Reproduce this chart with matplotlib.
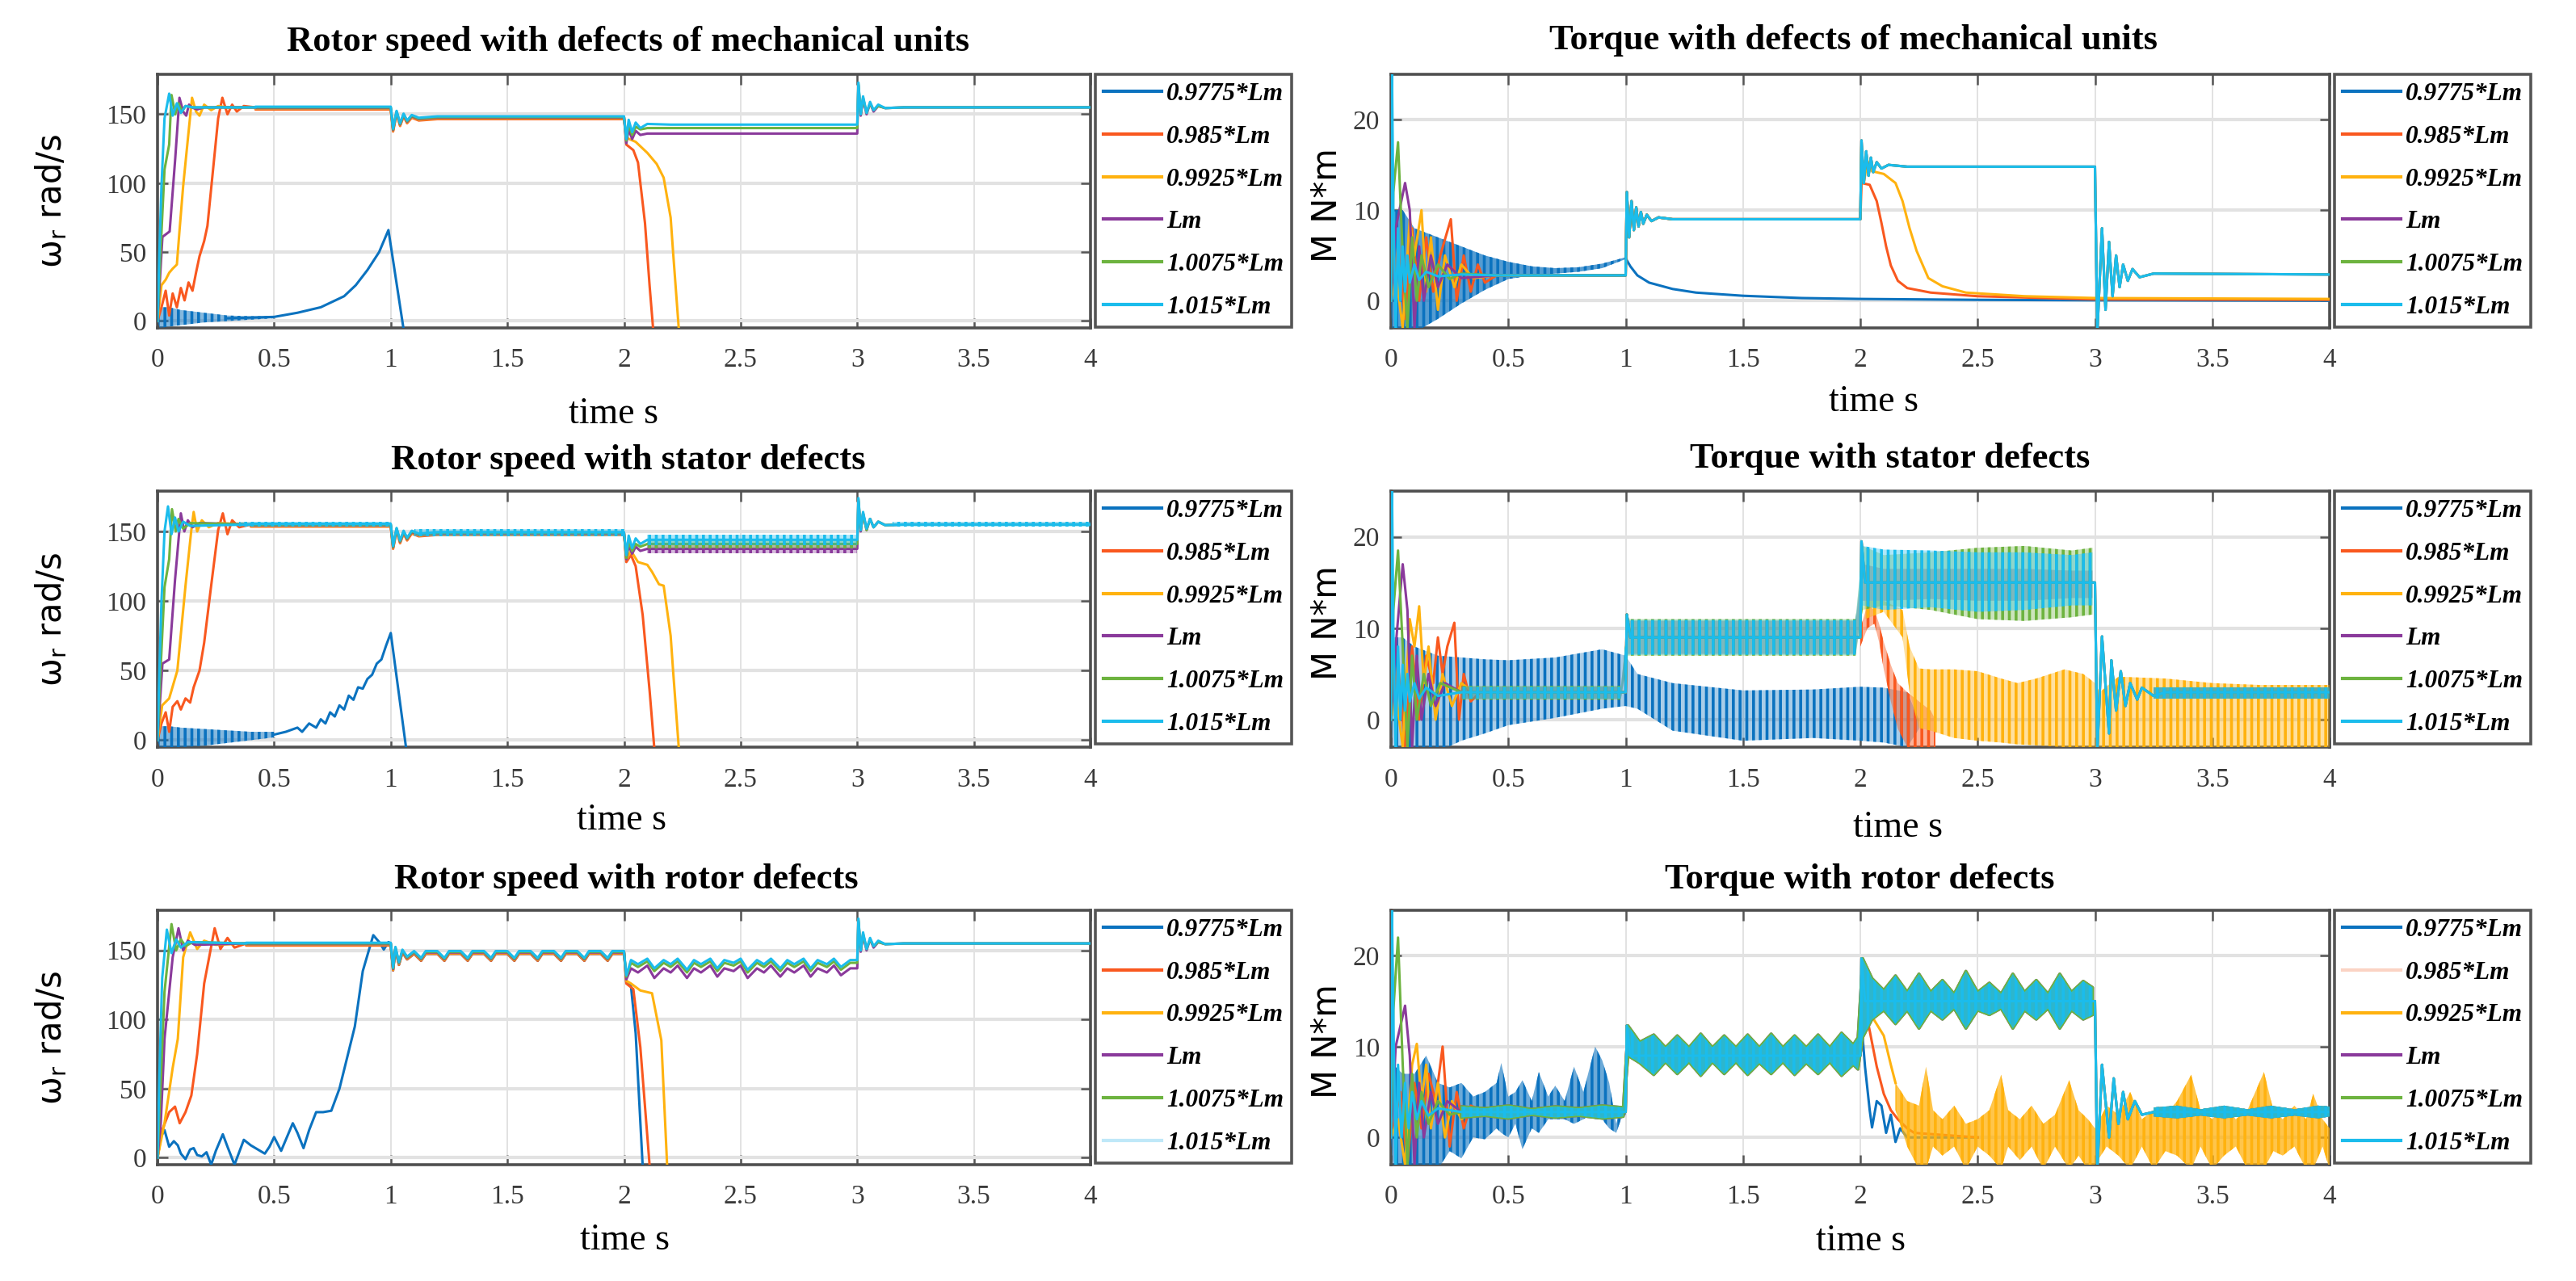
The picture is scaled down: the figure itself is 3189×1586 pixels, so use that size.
import matplotlib.pyplot as plt
from matplotlib.lines import Line2D
from matplotlib.colors import to_rgba

W, H = 3189, 1586

series_labels = ['0.9775*Lm', '0.985*Lm', '0.9925*Lm', 'Lm', '1.0075*Lm', '1.015*Lm']
series_colors = ['#0b72bf', '#f9581f', '#ffb20f', '#8a3a9b', '#6db33f', '#1bbcec']
time_ticks = [0, 0.5, 1, 1.5, 2, 2.5, 3, 3.5, 4]
time_tick_labels = ['0', '0.5', '1', '1.5', '2', '2.5', '3', '3.5', '4']
speed_ticks = [0, 50, 100, 150]
torque_ticks = [0, 10, 20]
speed_lim = (-5, 179)
torque_lim = (-3, 25)
titles = ['Rotor speed with defects of mechanical units', 'Torque with defects of mechanical units',
          'Rotor speed with stator defects', 'Torque with stator defects',
          'Rotor speed with rotor defects', 'Torque with rotor defects']

# ---------- A: rotor speed, mechanical defects ----------
tA_blue_band = [0, 0.01, 0.05, 0.1, 0.2, 0.3, 0.4, 0.5]
wA_blue_lo = [0, -5, -4, -3, -1, 0, 1, 2]
wA_blue_hi = [0, 10, 10, 8, 6, 4, 3.5, 3.5]
tA_blue = [0.3, 0.4, 0.5, 0.6, 0.7, 0.75, 0.8, 0.85, 0.9, 0.95, 0.99, 1.055]
wA_blue = [2, 2.5, 3, 6, 10, 14, 18, 26, 37, 50, 66, -6]
tA_orange = [0, 0.017, 0.035, 0.05, 0.065, 0.083, 0.1, 0.116, 0.133, 0.15, 0.165, 0.18, 0.2, 0.214, 0.237,
             0.26, 0.278, 0.3, 0.32, 0.34, 0.37, 0.42]
wA_orange = [0, 10, 22, 4, 20, 10, 24, 15, 28, 22, 35, 47, 58, 69, 108, 147, 162, 150, 157, 152, 156, 155]
tA_yellow = [0, 0.017, 0.035, 0.05, 0.065, 0.083, 0.094, 0.11, 0.133, 0.148, 0.165, 0.18, 0.2, 0.23, 0.26, 0.3, 0.42]
wA_yellow = [0, 26, 30, 35, 38, 41, 65, 98, 137, 162, 152, 149, 157, 153, 156, 155, 155]
tA_purple = [0, 0.021, 0.052, 0.076, 0.094, 0.11, 0.123, 0.135, 0.147, 0.17, 0.2, 0.42]
wA_purple = [0, 61, 65, 118, 162, 152, 149, 157, 155, 153.5, 155, 155]
tA_green = [0, 0.01, 0.03, 0.05, 0.06, 0.076, 0.09, 0.105, 0.12, 0.15, 0.42]
wA_green = [0, 40, 110, 128, 164, 150, 158, 152, 156, 155, 155]
tA_cyan = [0, 0.008, 0.017, 0.03, 0.05, 0.065, 0.083, 0.1, 0.12, 0.15, 0.42]
wA_cyan = [0, 50, 98, 147, 165, 149, 158, 151, 156, 155, 155]
tA_mid = [0.42, 1.0, 1.01, 1.025, 1.04, 1.055, 1.07, 1.09, 1.12, 1.2, 2.0]
wA_mid = [155, 155, 139, 152, 143, 150, 145, 149, 147, 148, 148]
tA_orange_end = [2.0, 2.01, 2.04, 2.06, 2.09, 2.11, 2.125]
wA_orange_end = [148, 128, 124, 115, 71, 25, -6]
tA_yellow_end = [2.0, 2.01, 2.05, 2.1, 2.14, 2.17, 2.2, 2.21, 2.235]
wA_yellow_end = [148, 133, 130, 122, 114, 104, 75, 51, -6]
tA_end = [2.0, 2.01, 2.02, 2.035, 2.05, 2.07, 2.1, 2.2, 3.0, 3.005, 3.015, 3.025, 3.04, 3.055, 3.07, 3.09,
          3.12, 3.2, 4.0]
wA_purple_end = [148, 129, 139, 132, 138, 135, 136, 136, 136, 171, 149, 161, 150, 158, 152, 156, 154.5, 155, 155]
wA_green_end = [148, 131, 143, 135, 141, 139, 140, 140, 140, 172, 150, 162, 151, 158, 153, 156, 154.5, 155, 155]
wA_cyan_end = [148, 132, 146, 137, 144, 140, 143, 142.5, 142.5, 173, 150, 163, 151, 159, 153, 157, 154.5, 155, 155]
plateau_shift = [0, -1.5, -1.0, -0.5, 0, 0.5]

# ---------- B: torque, mechanical defects ----------
tB_blue_band = [0, 0.005, 0.05, 0.1, 0.2, 0.3, 0.4, 0.5, 0.6, 0.7, 0.8, 0.9, 1.0]
mB_blue_lo = [0, -3.5, -3.5, -3.5, -2, -0.3, 1.2, 2.4, 2.8, 3.0, 3.2, 3.6, 4.6]
mB_blue_hi = [0, 10, 10, 8, 7, 6, 5, 4.3, 3.8, 3.6, 3.7, 4.1, 4.8]
tB_blue = [1.0, 1.02, 1.05, 1.1, 1.2, 1.3, 1.5, 1.75, 2.0, 2.5, 3.0, 4.0]
mB_blue = [4.7, 3.8, 2.8, 2.0, 1.3, 0.9, 0.55, 0.3, 0.2, 0.1, 0.05, 0.0]
tB_orange = [0, 0.03, 0.06, 0.09, 0.12, 0.15, 0.18, 0.21, 0.255, 0.28, 0.31, 0.34, 0.37, 0.4, 0.45]
mB_orange = [0, 6, -2, 8, 0, 7, 1, 5, 9, 0, 5, 1, 4, 2, 2.8]
tB_yellow = [0, 0.02, 0.05, 0.08, 0.1, 0.13, 0.15, 0.17, 0.2, 0.23, 0.27, 0.3, 0.35, 0.45]
mB_yellow = [0, 3, -3, 9, 5, 10, 1, 7, -1, 5, 1.5, 4, 2.5, 2.8]
tB_purple = [0, 0.02, 0.06, 0.08, 0.1, 0.12, 0.14, 0.17, 0.2, 0.24, 0.3, 0.45]
mB_purple = [0, 8, 13, 10, -3, 6, 0, 5, 1.5, 4, 2.5, 2.8]
tB_green = [0, 0.01, 0.03, 0.05, 0.07, 0.09, 0.11, 0.13, 0.16, 0.2, 0.25, 0.3, 0.45]
mB_green = [0, 12, 17.5, 5, -3, 7, 0, 5, 1.5, 4, 2.4, 3, 2.8]
tB_cyan = [0, 0.004, 0.01, 0.02, 0.03, 0.04, 0.05, 0.06, 0.07, 0.08, 0.1, 0.12, 0.15, 0.2, 0.3, 0.45]
mB_cyan = [0, 26, 10, -3.5, 8, 0, 6, 1, 5, 2, 4, 2.3, 3.2, 2.7, 2.9, 2.8]
tB_mid = [0.45, 1.0, 1.005, 1.015, 1.025, 1.035, 1.045, 1.055, 1.065, 1.075, 1.09, 1.11, 1.14, 1.2, 2.0]
mB_mid = [2.8, 2.8, 12, 7, 11, 7.8, 10.3, 8.2, 9.8, 8.5, 9.5, 8.8, 9.2, 9.0, 9.0]
tB_orange_end = [2.0, 2.005, 2.04, 2.07, 2.09, 2.11, 2.13, 2.16, 2.2, 2.3, 2.5, 3.0, 4.0]
mB_orange_end = [9, 13, 12.8, 11, 8.6, 6, 3.9, 2.2, 1.4, 0.9, 0.5, 0.15, 0.1]
tB_yellow_end = [2.0, 2.005, 2.015, 2.03, 2.05, 2.1, 2.15, 2.18, 2.21, 2.24, 2.29, 2.35, 2.45, 2.7, 3.0, 4.0]
mB_yellow_end = [9, 17, 13, 15.5, 14.3, 14, 13, 11, 8, 5.5, 2.5, 1.6, 0.9, 0.5, 0.3, 0.2]
tB_end = [2.0, 2.005, 2.015, 2.025, 2.035, 2.045, 2.055, 2.07, 2.09, 2.12, 2.2, 3.0, 3.01, 3.03, 3.045, 3.06,
          3.075, 3.09, 3.105, 3.12, 3.14, 3.16, 3.19, 3.25, 4.0]
mB_end = [9, 17.7, 13, 16.5, 13.8, 15.8, 14.2, 15.3, 14.6, 15, 14.8, 14.8, -3.5, 8, -1, 6.5, 0.5, 5, 1.5, 4,
          2.2, 3.5, 2.6, 3.0, 2.9]

# ---------- C: rotor speed, stator defects ----------
tC_blue_band = [0, 0.01, 0.05, 0.1, 0.2, 0.3, 0.4, 0.5]
wC_blue_lo = [0, -5, -5, -5, -4, -2, 0, 2]
wC_blue_hi = [0, 10, 10, 9, 8, 7, 6, 6]
tC_blue = [0.5, 0.55, 0.6, 0.62, 0.65, 0.68, 0.7, 0.72, 0.74, 0.76, 0.78, 0.8, 0.82, 0.84, 0.86, 0.88, 0.9,
           0.92, 0.94, 0.96, 0.98, 1.0, 1.066]
wC_blue = [4, 6, 9, 6, 12, 9, 15, 12, 20, 17, 25, 22, 32, 29, 38, 37, 44, 47, 55, 58, 68, 77, -6]
tC_orange = [0, 0.017, 0.035, 0.05, 0.065, 0.085, 0.1, 0.12, 0.14, 0.155, 0.18, 0.2, 0.23, 0.26, 0.28, 0.3,
             0.32, 0.35, 0.4]
wC_orange = [0, 12, 20, 6, 24, 28, 22, 30, 27, 38, 50, 70, 111, 151, 163, 148, 158, 153, 155]
tC_yellow = [0, 0.02, 0.05, 0.085, 0.12, 0.145, 0.155, 0.17, 0.19, 0.22, 0.26, 0.4]
wC_yellow = [0, 25, 30, 50, 111, 151, 164, 150, 158, 153, 156, 155]
tC_purple = [0, 0.021, 0.05, 0.075, 0.1, 0.115, 0.13, 0.15, 0.18, 0.4]
wC_purple = [0, 55, 58, 115, 163, 150, 158, 153, 156, 155]
tC_green = [0, 0.01, 0.03, 0.05, 0.062, 0.078, 0.09, 0.11, 0.14, 0.4]
wC_green = [0, 40, 110, 130, 166, 150, 159, 152, 156, 155]
tC_cyan = [0, 0.008, 0.017, 0.03, 0.045, 0.06, 0.075, 0.09, 0.11, 0.14, 0.4]
wC_cyan = [0, 50, 100, 150, 168, 148, 160, 150, 157, 154, 155]
tC_mid = [0.4, 1.0, 1.01, 1.025, 1.04, 1.055, 1.07, 1.09, 1.12, 1.2, 2.0]
wC_mid = [155, 155, 139, 152, 143, 150, 145, 150, 148, 149, 149]
tC_rip1 = [0.35, 1.0]
wC_rip1_lo = [153.5, 153.5]
wC_rip1_hi = [157, 157]
tC_rip2 = [1.1, 2.0]
wC_rip2_lo = [146.5, 146.5]
wC_rip2_hi = [151.5, 151.5]
tC_rip3 = [2.1, 3.0]
wC_rip3_cyan = ([140, 140], [147.5, 147.5])
wC_rip3_green = ([137.5, 137.5], [145, 145])
wC_rip3_purple = ([134.5, 134.5], [141, 141])
tC_rip4 = [3.15, 4.0]
wC_rip4_lo = [153.5, 153.5]
wC_rip4_hi = [157, 157]
tC_orange_end = [2.0, 2.01, 2.03, 2.05, 2.08, 2.11, 2.13]
wC_orange_end = [149, 128, 133, 125, 90, 35, -6]
tC_yellow_end = [2.0, 2.01, 2.03, 2.06, 2.1, 2.12, 2.15, 2.17, 2.2, 2.21, 2.235]
wC_yellow_end = [149, 130, 136, 128, 126, 121, 112, 111, 75, 51, -6]
tC_end = [2.0, 2.01, 2.02, 2.035, 2.05, 2.07, 2.1, 3.0, 3.005, 3.015, 3.025, 3.04, 3.055, 3.07, 3.09, 3.12,
          3.2, 4.0]
wC_purple_end = [149, 130, 140, 134, 139, 136, 137.5, 137.5, 172, 150, 163, 151, 159, 153, 157, 154.5, 155, 155]
wC_green_end = [149, 131, 143, 136, 141, 139, 141, 141, 173, 151, 163, 151, 159, 153, 157, 154.5, 155, 155]
wC_cyan_end = [149, 133, 147, 138, 145, 141, 144, 144, 174, 151, 164, 152, 159, 153, 157, 154.5, 155, 155]

# ---------- D: torque, stator defects ----------
tD_orange = [0, 0.03, 0.06, 0.09, 0.12, 0.15, 0.18, 0.2, 0.22, 0.24, 0.27, 0.29, 0.31, 0.34, 0.38]
mD_orange = [0, 6, -3, 8, 0, 7, 4, 9, 5, 8, 10.6, 0, 5, 2, 3]
tD_yellow = [0, 0.02, 0.05, 0.08, 0.1, 0.12, 0.14, 0.16, 0.19, 0.22, 0.26, 0.3, 0.35]
mD_yellow = [0, 3, -3, 11, 8, 12.4, 4, 8, 0, 5, 1.5, 4, 3]
tD_purple = [0, 0.02, 0.05, 0.07, 0.09, 0.11, 0.13, 0.16, 0.19, 0.23, 0.3]
mD_purple = [0, 8, 17, 12, -3, 7, 0, 5, 1.5, 4, 3]
tD_green = [0, 0.01, 0.03, 0.05, 0.07, 0.09, 0.11, 0.14, 0.17, 0.21, 0.3]
mD_green = [0, 12, 18.5, 8, -3, 7, 0, 5, 1.5, 4, 3]
tD_cyan = [0, 0.004, 0.01, 0.02, 0.03, 0.04, 0.05, 0.06, 0.07, 0.08, 0.1, 0.12, 0.15, 0.2, 0.3]
mD_cyan = [0, 26, 10, -3.5, 8, 0, 6, 1, 5, 2, 4, 2.3, 3.5, 2.6, 3]
tD_band = [0.3, 0.98, 1.01, 1.98, 2.01, 2.1, 2.3, 2.5, 2.7, 2.9, 2.99]
mD_cyan_lo = [2.3, 2.3, 7.1, 7.1, 12.5, 12, 12.3, 11.8, 12, 12.5, 12.5]
mD_cyan_hi = [3.6, 3.6, 10.9, 10.9, 19, 18.6, 18.5, 18.3, 18.3, 18, 18.3]
mD_green_lo = [2.2, 2.2, 7.0, 7.0, 12, 12.5, 12, 11, 10.8, 11.2, 11.5]
mD_green_hi = [3.7, 3.7, 11, 11, 19, 18, 18.3, 18.8, 19, 18.5, 18.8]
mD_purple_lo = [2.3, 2.3, 7.2, 7.2, 13, 13, 13.2, 13, 13, 13.3, 13.3]
mD_purple_hi = [3.6, 3.6, 10.8, 10.8, 17, 16.5, 16.5, 16.5, 16.5, 16.3, 16.3]
tD_mid = [0.3, 1.0, 1.005, 1.02, 2.0]
mD_mid = [3, 3, 11.5, 9, 9]
tD_end = [2.0, 2.005, 2.02, 3.0, 3.01, 3.03, 3.06, 3.07, 3.09, 3.11, 3.13, 3.15, 3.18, 3.2, 3.25, 3.3, 4.0]
mD_end = [9, 19.5, 15, 15, -3.5, 9.1, -1.5, 6.5, 1, 5.3, 1.5, 4, 2.2, 3.5, 2.6, 3.0, 3.0]
tD_tail = [3.25, 4.0]
mD_tail_lo = [2.3, 2.3]
mD_tail_hi = [3.5, 3.5]
tD_blue_band = [0, 0.01, 0.05, 0.1, 0.2, 0.3, 0.4, 0.5, 0.7, 0.9, 1.0, 1.05, 1.2, 1.5, 1.8, 2.0, 2.1, 2.2, 2.25]
mD_blue_lo = [0, -3.5, -3.5, -3.5, -3.5, -2.3, -1.5, -0.6, 0.2, 1.2, 1.5, 1.2, -1.2, -2.3, -2, -2.3, -2.5, -3, -1]
mD_blue_hi = [0, 9, 9, 8, 7, 6.8, 6.6, 6.5, 6.8, 7.7, 7, 5, 4, 3.2, 3.3, 3.6, 3.5, 3.0, 0]
tD_orange_band = [2.0, 2.03, 2.06, 2.08, 2.1, 2.13, 2.16, 2.2, 2.25, 2.3, 2.32]
mD_orange_lo = [8, 10, 10.5, 8.5, 5.5, 2, -1, -3, -3.5, -3.5, -3]
mD_orange_hi = [10, 12.5, 12, 10.5, 8.5, 6, 4, 3, 2, 1, 0]
tD_yellow_band = [2.02, 2.1, 2.18, 2.21, 2.25, 2.3, 2.4, 2.5, 2.6, 2.67, 2.75, 2.87, 2.95, 3.0, 3.02, 3.1,
                  3.3, 3.5, 3.7, 3.9, 4.0]
mD_yellow_lo = [11, 11.8, 9, 3, -0.9, -1.2, -2, -2.3, -2.5, -2.7, -2.8, -3, -3.2, -3.5, -3.5, -3.5, -3.5,
                -3.5, -3.5, -3.5, -3.5]
mD_yellow_hi = [13, 13, 12, 8, 5.6, 5.5, 5.5, 5.3, 4.5, 4, 4.5, 5.5, 5, 4, 3, 4.7, 4.5, 4, 3.8, 3.8, 3.8]

# ---------- E: rotor speed, rotor defects ----------
tE_blue = [0, 0.014, 0.03, 0.05, 0.07, 0.087, 0.1, 0.12, 0.14, 0.155, 0.17, 0.19, 0.21, 0.23, 0.25, 0.28,
           0.3, 0.33, 0.35, 0.37, 0.4, 0.42, 0.44, 0.46, 0.48, 0.5, 0.53, 0.555, 0.58, 0.6, 0.626, 0.65,
           0.68, 0.71, 0.745, 0.78, 0.805, 0.846, 0.88, 0.925, 0.953, 0.97, 0.99, 1.0]
wE_blue = [0, 15, 20, 8, 12, 9, 3, -1, 6, 7, 2, 1, 4, -5, 5, 17, 8, -5, 4, 13, 9, 7, 5, 3, 8, 15, 5, 15,
           25, 18, 7, 20, 33, 33, 34, 50, 67, 95, 135, 161, 155.5, 150.6, 156, 155]
tE_orange = [0, 0.02, 0.05, 0.075, 0.095, 0.12, 0.145, 0.17, 0.2, 0.245, 0.27, 0.3, 0.33, 0.38]
wE_orange = [0, 20, 33, 37, 25, 33, 45, 75, 126, 166, 151, 159, 152, 155]
tE_yellow = [0, 0.03, 0.065, 0.087, 0.11, 0.14, 0.17, 0.2, 0.25, 0.38]
wE_yellow = [0, 25, 65, 86, 145, 163, 151, 157, 154, 155]
tE_purple = [0, 0.014, 0.03, 0.065, 0.09, 0.11, 0.13, 0.16, 0.38]
wE_purple = [0, 25, 86, 145, 166, 150, 157, 154, 155]
tE_green = [0, 0.01, 0.03, 0.06, 0.08, 0.1, 0.12, 0.15, 0.38]
wE_green = [0, 40, 120, 169, 150, 158, 153, 156, 155]
tE_cyan = [0, 0.008, 0.02, 0.04, 0.06, 0.08, 0.1, 0.13, 0.38]
wE_cyan = [0, 60, 130, 165, 148, 158, 152, 156, 155]
tE_mid = [0.38, 1.0, 1.01, 1.02, 1.035, 1.05, 1.07, 1.1, 1.13, 1.15, 1.2, 1.23, 1.25, 1.3, 1.33, 1.35, 1.4,
          1.43, 1.45, 1.5, 1.53, 1.55, 1.6, 1.63, 1.65, 1.7, 1.73, 1.75, 1.8, 1.83, 1.85, 1.9, 1.93, 1.95, 2.0]
wE_mid = [155, 155, 137, 152, 141, 150, 145, 149, 144, 149, 149, 144, 149, 149, 144, 149, 149, 144, 149, 149,
          144, 149, 149, 144, 149, 149, 144, 149, 149, 144, 149, 149, 144, 149, 149]
tE_blue_end = [2.0, 2.01, 2.03, 2.05, 2.08]
wE_blue_end = [149, 127, 124, 90, -6]
tE_orange_end = [2.0, 2.01, 2.04, 2.07, 2.11]
wE_orange_end = [149, 126, 122, 80, -6]
tE_yellow_end = [2.0, 2.01, 2.03, 2.07, 2.12, 2.16, 2.185]
wE_yellow_end = [149, 128, 126, 121, 119, 85, -6]
tE_end = [2.0, 2.01, 2.03, 2.06, 2.1, 2.13, 2.17, 2.2, 2.23, 2.27, 2.3, 2.33, 2.37, 2.4, 2.43, 2.47, 2.5,
          2.53, 2.57, 2.6, 2.63, 2.67, 2.7, 2.73, 2.77, 2.8, 2.83, 2.87, 2.9, 2.93, 2.97, 3.0, 3.005, 3.015,
          3.025, 3.04, 3.055, 3.07, 3.09, 3.12, 3.2, 4.0]
wE_cyan_end = [149, 132, 143, 140, 144, 137, 143, 140, 144, 136, 143, 140, 144, 137, 143, 141, 144, 136, 143,
               140, 144, 137, 143, 140, 144, 137, 143, 140, 144, 138, 143, 143, 173, 150, 163, 151, 159, 153,
               157, 154.5, 155, 155]
wE_green_end = [149, 131, 141, 138, 142, 135, 141, 138, 142, 134, 141, 138, 142, 135, 141, 139, 142, 134, 141,
                138, 142, 135, 141, 138, 142, 135, 141, 138, 142, 136, 141, 141, 172, 150, 162, 151, 158, 153,
                156, 154.5, 155, 155]
wE_purple_end = [149, 129, 137, 134, 139, 130, 137, 134, 139, 130, 137, 134, 139, 131, 137, 135, 139, 130, 137,
                 134, 139, 131, 137, 134, 139, 131, 137, 134, 139, 132, 137, 137, 171, 149, 161, 150, 158, 152,
                 156, 154.5, 155, 155]

# ---------- F: torque, rotor defects ----------
tF_orange = [0, 0.04, 0.07, 0.1, 0.13, 0.16, 0.19, 0.22, 0.25, 0.28, 0.31, 0.34, 0.4]
mF_orange = [0, 5, -3, 6, 1, 7, 4, 10, -1, 5, 1, 3.5, 2.8]
tF_yellow = [0, 0.03, 0.06, 0.09, 0.11, 0.13, 0.15, 0.17, 0.2, 0.23, 0.26, 0.3, 0.35]
mF_yellow = [0, 2, -3, 8, 10.3, 4, 8, 1, 6, 0, 4, 2, 3]
tF_purple = [0, 0.02, 0.06, 0.08, 0.1, 0.12, 0.14, 0.17, 0.2, 0.24, 0.3]
mF_purple = [0, 10, 14.5, 9, -3, 6, 0, 5, 1.5, 4, 2.8]
tF_green = [0, 0.01, 0.03, 0.05, 0.07, 0.09, 0.11, 0.13, 0.16, 0.2, 0.25, 0.3]
mF_green = [0, 14, 22, 8, -3, 7, 0, 5, 1.5, 4, 2.5, 2.8]
tF_cyan = [0, 0.004, 0.012, 0.02, 0.03, 0.045, 0.06, 0.075, 0.09, 0.11, 0.13, 0.16, 0.2, 0.3]
mF_cyan = [0, 25, 10, -3.5, 8, 0, 6, 1, 5, 2, 4, 2.4, 3.2, 2.8]
tF_band = [0.3, 0.4, 0.5, 0.6, 0.7, 0.8, 0.9, 0.99,
           1.01, 1.06, 1.12, 1.17, 1.22, 1.27, 1.32, 1.37, 1.42, 1.47, 1.52, 1.57, 1.62, 1.67, 1.72, 1.77,
           1.82, 1.87, 1.92, 1.97, 1.99,
           2.01, 2.05, 2.1, 2.15, 2.2, 2.25, 2.3, 2.35, 2.4, 2.45, 2.5, 2.55, 2.6, 2.65, 2.7, 2.75, 2.8, 2.85,
           2.9, 2.95, 2.99]
mF_band_hi = [3.4, 3.2, 3.5, 3.1, 3.4, 3.2, 3.5, 3.3,
              12.3, 10.5, 11.3, 9.9, 11.2, 9.9, 11.4, 9.9, 11.2, 9.9, 11.3, 9.9, 11.4, 9.9, 11.2, 9.9, 11.3,
              9.9, 11.5, 10.2, 11,
              19.7, 17.5, 16.2, 17.8, 16, 18, 16, 17.3, 15.8, 18.3, 16, 17, 15.8, 18, 16, 17.3, 15.8, 18, 16,
              17.2, 16.5]
mF_band_lo = [2.2, 2.4, 2.1, 2.5, 2.2, 2.4, 2.1, 2.3,
              9, 8.2, 6.9, 8.3, 7.0, 8.3, 6.8, 8.3, 7.0, 8.3, 6.9, 8.2, 7.0, 8.3, 6.9, 8.2, 7.0, 8.3, 6.8, 8.0,
              7.5,
              11, 13, 14, 12.5, 14, 12, 14, 13, 14.2, 12, 14, 13.5, 14.2, 12, 14, 13, 14.2, 12, 14, 13, 13.5]
tF_tail = [3.25, 3.35, 3.45, 3.55, 3.65, 3.75, 3.85, 3.95, 4.0]
mF_tail_lo = [2.3, 2.1, 2.4, 2.1, 2.4, 2.1, 2.4, 2.1, 2.3]
mF_tail_hi = [3.3, 3.5, 3.1, 3.5, 3.1, 3.5, 3.1, 3.5, 3.4]
tF_line = [0.3, 1.0, 1.005, 1.02, 2.0, 2.005, 2.02, 3.0, 3.01, 3.03, 3.06, 3.08, 3.1, 3.12, 3.14, 3.17, 3.2,
           3.25, 4.0]
mF_line = [2.8, 2.8, 12.3, 9, 9, 19.7, 15, 15, -3.5, 8, 0, 6.5, 1.5, 5, 2, 4, 2.5, 2.8, 2.8]
tF_blue_band = [0, 0.01, 0.05, 0.1, 0.15, 0.2, 0.25, 0.3, 0.35, 0.4, 0.45, 0.47, 0.5, 0.53, 0.56, 0.6, 0.63,
                0.67, 0.7, 0.74, 0.78, 0.82, 0.85, 0.87, 0.9, 0.93, 0.96, 0.98, 1.0]
mF_blue_hi = [0, 8, 7, 7, 9, 6, 5.5, 6, 4.5, 5, 6, 8.2, 4.5, 5, 6.3, 4, 7.2, 4.5, 5.7, 4, 7.8, 5, 8, 10, 8.5,
              6, 1.5, 3.5, 3]
mF_blue_lo = [0, -3.5, -3.5, -3.5, -3, -3.5, -1.5, -2.3, 0, -0.2, 1, 0.5, 0, 1.5, -1.3, 1, 0.5, 2, 2, 2,
              1.5, 2, 2.5, 2, 2, 1, 0.5, 2, 2.5]
tF_blue_end = [2.0, 2.01, 2.02, 2.04, 2.05, 2.07, 2.09, 2.11, 2.13, 2.15, 2.17, 2.2, 2.5]
mF_blue_end = [9, 11, 7.8, 3, 1.1, 4, 3.5, 0.5, 2.5, -0.5, 1, 0, 0]
tF_orange_end = [2.0, 2.01, 2.035, 2.07, 2.1, 2.13, 2.16, 2.2, 2.23, 2.5]
mF_orange_end = [9, 11.5, 12.4, 7.8, 4.8, 3, 2, 1, 0.5, 0]
tF_yellow_end = [2.0, 2.02, 2.05, 2.1, 2.13, 2.15]
mF_yellow_end = [9, 13, 13.3, 11.2, 8, 6]
tF_yellow_band = [2.15, 2.2, 2.25, 2.28, 2.31, 2.35, 2.4, 2.45, 2.5, 2.55, 2.6, 2.63, 2.68, 2.73, 2.78, 2.83,
                  2.89, 2.93, 2.97, 3.0, 3.05, 3.1, 3.15, 3.2, 3.25, 3.3, 3.35, 3.41, 3.45, 3.5, 3.55, 3.6,
                  3.65, 3.72, 3.76, 3.8, 3.85, 3.9, 3.93, 3.97, 4.0]
mF_yellow_hi = [6, 4, 3.5, 7.8, 3, 2, 3.5, 1.5, 2, 3, 6.9, 3, 2, 3.5, 1.5, 2.5, 6.3, 3, 2, 1, 3.5, 2.5, 5, 2,
                3, 2.5, 4, 6.9, 3, 2, 3.5, 2, 3, 7.2, 3, 2, 3.5, 2, 4.8, 2, 1]
mF_yellow_lo = [3, -1, -3.5, -3.5, -1, -2, -1, -3.5, -1, -2, -3.5, -1, -2.5, -1, -3.5, -1, -3.5, -2, -3.5, -3,
                -1, -2, -3.5, -1, -3.5, -1.5, -2, -3.5, -1, -3.5, -2, -1, -3.5, -3.5, -1.5, -2, -1, -3.5,
                -3.5, -1, -3.5]

plt.rcParams['font.family'] = ['Liberation Serif', 'DejaVu Sans']
plt.rcParams['hatch.linewidth'] = 2.6


def line(ax, t, y, k, lw=2.2):
    ax.plot(t, y, color=series_colors[k], lw=lw, zorder=3 + k, solid_joinstyle='round')


def band(ax, t, lo, hi, k, face=0.45, edge=0.0, hatch='||'):
    # dense oscillation drawn as a striped band between read envelopes
    c = series_colors[k]
    ax.fill_between(t, lo, hi, facecolor=to_rgba(c, face), edgecolor=c, hatch=hatch, lw=edge,
                    zorder=3 + k)


def shifted(values, k):
    return [v + plateau_shift[k] for v in values]


def setup(ax, yticks, ylim):
    ax.set_xlim(0, 4)
    ax.set_ylim(*ylim)
    ax.set_xticks(time_ticks)
    ax.set_xticklabels(time_tick_labels)
    ax.set_yticks(yticks)
    ax.tick_params(direction='in', top=True, right=True, length=9, width=1.8, color='#555555',
                   labelsize=24, labelcolor='#3a3a3a')
    ax.tick_params(axis='x', pad=18)
    ax.tick_params(axis='y', pad=10)
    ax.xaxis.grid(True, color='#e2e2e2', lw=1.4)
    ax.yaxis.grid(True, color='#e2e2e2', lw=3.0)
    ax.set_axisbelow(True)
    for s in ax.spines.values():
        s.set_color('#4f4f4f')
        s.set_linewidth(2.6)


def legend(ax, faded=None):
    handles = []
    for k, c in enumerate(series_colors):
        col = c
        if faded is not None and faded[0] == k:
            col = faded[1]
        handles.append(Line2D([], [], color=col, lw=3))
    leg = ax.legend(handles, series_labels, loc='upper left', bbox_to_anchor=(1.005, 1.0),
                    borderaxespad=0, frameon=True, fancybox=False, edgecolor='#555555', framealpha=1,
                    prop={'family': 'Liberation Serif', 'weight': 'bold', 'style': 'italic', 'size': 22.5},
                    handlelength=2.3, handletextpad=0.2, labelspacing=0.76, borderpad=0.32)
    leg.get_frame().set_linewidth(2.6)


fig = plt.figure(figsize=(W / 100, H / 100), dpi=100)


def rect(x0, x1, y0, y1):
    return [x0 / W, 1 - y1 / H, (x1 - x0) / W, (y1 - y0) / H]


rows = [(92, 406), (608, 925), (1127, 1442)]
axA = fig.add_axes(rect(195, 1350, *rows[0]))
axB = fig.add_axes(rect(1722, 2884, *rows[0]))
axC = fig.add_axes(rect(195, 1350, *rows[1]))
axD = fig.add_axes(rect(1722, 2884, *rows[1]))
axE = fig.add_axes(rect(195, 1350, *rows[2]))
axF = fig.add_axes(rect(1722, 2884, *rows[2]))

# ---- A ----
ax = axA
band(ax, tA_blue_band, wA_blue_lo, wA_blue_hi, 0, face=0.5)
line(ax, tA_blue, wA_blue, 0)
line(ax, tA_orange + tA_mid + tA_orange_end, wA_orange + shifted(wA_mid, 1) + wA_orange_end, 1)
line(ax, tA_yellow + tA_mid + tA_yellow_end, wA_yellow + shifted(wA_mid, 2) + wA_yellow_end, 2)
line(ax, tA_purple + tA_mid + tA_end, wA_purple + shifted(wA_mid, 3) + wA_purple_end, 3)
line(ax, tA_green + tA_mid + tA_end, wA_green + shifted(wA_mid, 4) + wA_green_end, 4)
line(ax, tA_cyan + tA_mid + tA_end, wA_cyan + shifted(wA_mid, 5) + wA_cyan_end, 5)

# ---- B ----
ax = axB
band(ax, tB_blue_band, mB_blue_lo, mB_blue_hi, 0, face=0.7)
line(ax, tB_blue, mB_blue, 0)
line(ax, tB_orange + tB_mid + tB_orange_end, mB_orange + mB_mid + mB_orange_end, 1)
line(ax, tB_yellow + tB_mid + tB_yellow_end, mB_yellow + mB_mid + mB_yellow_end, 2)
line(ax, tB_purple + tB_mid + tB_end, mB_purple + mB_mid + mB_end, 3)
line(ax, tB_green + tB_mid + tB_end, mB_green + mB_mid + mB_end, 4)
line(ax, tB_cyan + tB_mid + tB_end, mB_cyan + mB_mid + mB_end, 5)

# ---- C ----
ax = axC
band(ax, tC_blue_band, wC_blue_lo, wC_blue_hi, 0, face=0.5)
line(ax, tC_blue, wC_blue, 0)
line(ax, tC_orange + tC_mid + tC_orange_end, wC_orange + shifted(wC_mid, 1) + wC_orange_end, 1)
line(ax, tC_yellow + tC_mid + tC_yellow_end, wC_yellow + shifted(wC_mid, 2) + wC_yellow_end, 2)
for k, tk, wk, wend, rip in [(3, tC_purple, wC_purple, wC_purple_end, wC_rip3_purple),
                             (4, tC_green, wC_green, wC_green_end, wC_rip3_green),
                             (5, tC_cyan, wC_cyan, wC_cyan_end, wC_rip3_cyan)]:
    line(ax, tk + tC_mid + tC_end, wk + shifted(wC_mid, k) + wend, k)
    band(ax, tC_rip3, rip[0], rip[1], k, face=0.35)
band(ax, tC_rip1, wC_rip1_lo, wC_rip1_hi, 5, face=0.35)
band(ax, tC_rip2, wC_rip2_lo, wC_rip2_hi, 5, face=0.35)
band(ax, tC_rip4, wC_rip4_lo, wC_rip4_hi, 5, face=0.35)

# ---- D ----
ax = axD
band(ax, tD_blue_band, mD_blue_lo, mD_blue_hi, 0, face=0.35)
line(ax, tD_orange + tD_mid, mD_orange + mD_mid, 1)
band(ax, tD_orange_band, mD_orange_lo, mD_orange_hi, 1, face=0.45)
line(ax, tD_yellow + tD_mid, mD_yellow + mD_mid, 2)
band(ax, tD_yellow_band, mD_yellow_lo, mD_yellow_hi, 2, face=0.4)
for k, tk, mk, lo, hi in [(3, tD_purple, mD_purple, mD_purple_lo, mD_purple_hi),
                          (4, tD_green, mD_green, mD_green_lo, mD_green_hi),
                          (5, tD_cyan, mD_cyan, mD_cyan_lo, mD_cyan_hi)]:
    line(ax, tk + tD_mid + tD_end, mk + mD_mid + mD_end, k)
    band(ax, tD_band, lo, hi, k, face=0.35)
    band(ax, tD_tail, mD_tail_lo, mD_tail_hi, k, face=0.5)

# ---- E ----
ax = axE
line(ax, tE_blue + tE_mid[1:] + tE_blue_end, wE_blue + shifted(wE_mid[1:], 1) + wE_blue_end, 0)
line(ax, tE_orange + tE_mid + tE_orange_end, wE_orange + shifted(wE_mid, 1) + wE_orange_end, 1)
line(ax, tE_yellow + tE_mid + tE_yellow_end, wE_yellow + shifted(wE_mid, 2) + wE_yellow_end, 2)
line(ax, tE_purple + tE_mid + tE_end, wE_purple + shifted(wE_mid, 3) + wE_purple_end, 3)
line(ax, tE_green + tE_mid + tE_end, wE_green + shifted(wE_mid, 4) + wE_green_end, 4)
line(ax, tE_cyan + tE_mid + tE_end, wE_cyan + shifted(wE_mid, 5) + wE_cyan_end, 5)

# ---- F ----
ax = axF
band(ax, tF_blue_band, mF_blue_lo, mF_blue_hi, 0, face=0.6)
line(ax, tF_line[:5] + tF_blue_end, mF_line[:5] + mF_blue_end, 0)
line(ax, tF_orange + tF_line[:5] + tF_orange_end, mF_orange + mF_line[:5] + mF_orange_end, 1)
line(ax, tF_yellow + tF_line[:5] + tF_yellow_end, mF_yellow + mF_line[:5] + mF_yellow_end, 2)
band(ax, tF_yellow_band, mF_yellow_lo, mF_yellow_hi, 2, face=0.75)
for k, tk, mk in [(3, tF_purple, mF_purple), (4, tF_green, mF_green), (5, tF_cyan, mF_cyan)]:
    line(ax, tk + tF_line, mk + mF_line, k)
    band(ax, tF_band, mF_band_lo, mF_band_hi, k, face=0.8, edge=2.5 if k < 5 else 0.0)
    band(ax, tF_tail, mF_tail_lo, mF_tail_hi, k, face=0.8)

for ax in (axA, axC, axE):
    setup(ax, speed_ticks, speed_lim)
for ax in (axB, axD, axF):
    setup(ax, torque_ticks, torque_lim)
legend(axA)
legend(axB)
legend(axC)
legend(axD)
legend(axE, faded=(5, '#bfe8f8'))
legend(axF, faded=(1, '#fbd3c4'))

# titles, axis labels (placed in pixel positions of the original layout)
title_pos = [(778, 52), (2294, 50), (778, 570), (2340, 568), (775, 1089), (2302, 1089)]
for txt, (x, y) in zip(titles, title_pos):
    fig.text(x / W, 1 - y / H, txt, ha='center', va='center', fontsize=32, fontweight='bold',
             family='Liberation Serif')
xlabel_pos = [(760, 513), (2319, 498), (769, 1016), (2350, 1025), (773, 1536), (2303, 1537)]
for x, y in xlabel_pos:
    fig.text(x / W, 1 - y / H, 'time s', ha='center', va='center', fontsize=33, family='Liberation Serif')
for (y0, y1) in rows:
    yc = 1 - (y0 + y1) / 2 / H
    fig.text(63 / W, yc, 'ω$_\\mathrm{r}$ rad/s', rotation=90, ha='center', va='center', fontsize=30,
             family='DejaVu Sans')
    fig.text(1643 / W, yc - 5 / H, 'M N*m', rotation=90, ha='center', va='center', fontsize=30,
             family='DejaVu Sans')

fig.savefig('out.png', dpi=100, facecolor='white')
